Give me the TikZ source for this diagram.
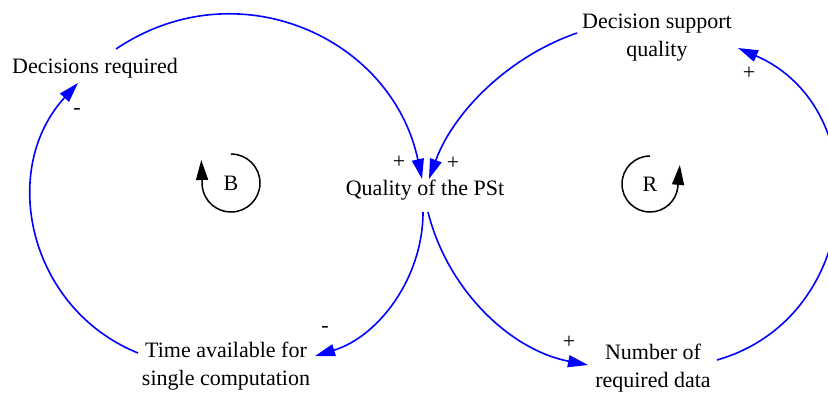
\documentclass[tikz,border=0pt]{standalone}
\usepackage{fontspec}
\setmainfont{Liberation Serif}
\usetikzlibrary{arrows.meta}
\begin{document}
\begin{tikzpicture}[x=1pt,y=1pt,
  var/.style={inner sep=0pt, anchor=base, font=\fontsize{22}{28}\selectfont},
  sign/.style={inner sep=0pt, font=\fontsize{22}{28}\selectfont},
  link/.style={draw=blue, line width=1.6pt, -{Triangle[length=20pt,width=12pt]}},
  loopline/.style={draw=black, line width=1.5pt, -{Triangle[length=20pt,width=12pt]}}
]
\useasboundingbox (0,-392) rectangle (828,0);
\clip (0,-392) rectangle (828,0);

% variables
\node[var] (dec) at (95,-73) {Decisions required};
\node[var] (qual) at (425,-195) {Quality of the PSt};
\node[var] (time) at (226,-357) {\begin{tabular}[t]{@{}c@{}}Time available for\\single computation\end{tabular}};
\node[var] (dsq) at (657,-28) {\begin{tabular}[t]{@{}c@{}}Decision support\\quality\end{tabular}};
\node[var] (num) at (653,-359) {\begin{tabular}[t]{@{}c@{}}Number of\\required data\end{tabular}};

% loop labels
\node[sign] (Bl) at (231,-183) {B};
\node[sign] (Rl) at (650,-184) {R};

% polarity signs
\node[sign] (s1) at (399,-162) {+};
\node[sign] (s2) at (453,-163) {+};
\node[sign] (s3) at (77,-111) {-};
\node[sign] (s4) at (325,-329) {-};
\node[sign] (s5) at (569,-342) {+};
\node[sign] (s6) at (749,-73) {+};

% links
\draw[link] ([shift={(21,24)}]dec.base) to[out=34,in=102,looseness=1.12] ([shift={(-3,16)}]qual.base);
\draw[link] ([shift={(-80,-5)}]dsq.base) to[out=199,in=70,looseness=0.88] ([shift={(4,16)}]qual.base);
\draw[link] ([shift={(-2,-17)}]qual.base) to[out=-90,in=17,looseness=0.94] ([shift={(89,1)}]time.base);
\draw[link] ([shift={(3,-17)}]qual.base) to[out=-76,in=169,looseness=0.92] ([shift={(-65,-6)}]num.base);
\draw[link] ([shift={(64,-1)}]num.base) to[out=16,in=-23.5,looseness=1.25] ([shift={(81,-20)}]dsq.base);
\draw[link] ([shift={(-88,4)}]time.base) to[out=158,in=-132.6,looseness=1.09] ([shift={(-17,-10)}]dec.base);

% loop symbols
\draw[loopline] ([shift={(0,29)}]Bl.center) arc[start angle=90,end angle=-172,radius=29] -- ++(-1,27);
\draw[loopline] ([shift={(0,28)}]Rl.center) arc[start angle=90,end angle=354,radius=28] -- ++(2,22);
\end{tikzpicture}
\end{document}
